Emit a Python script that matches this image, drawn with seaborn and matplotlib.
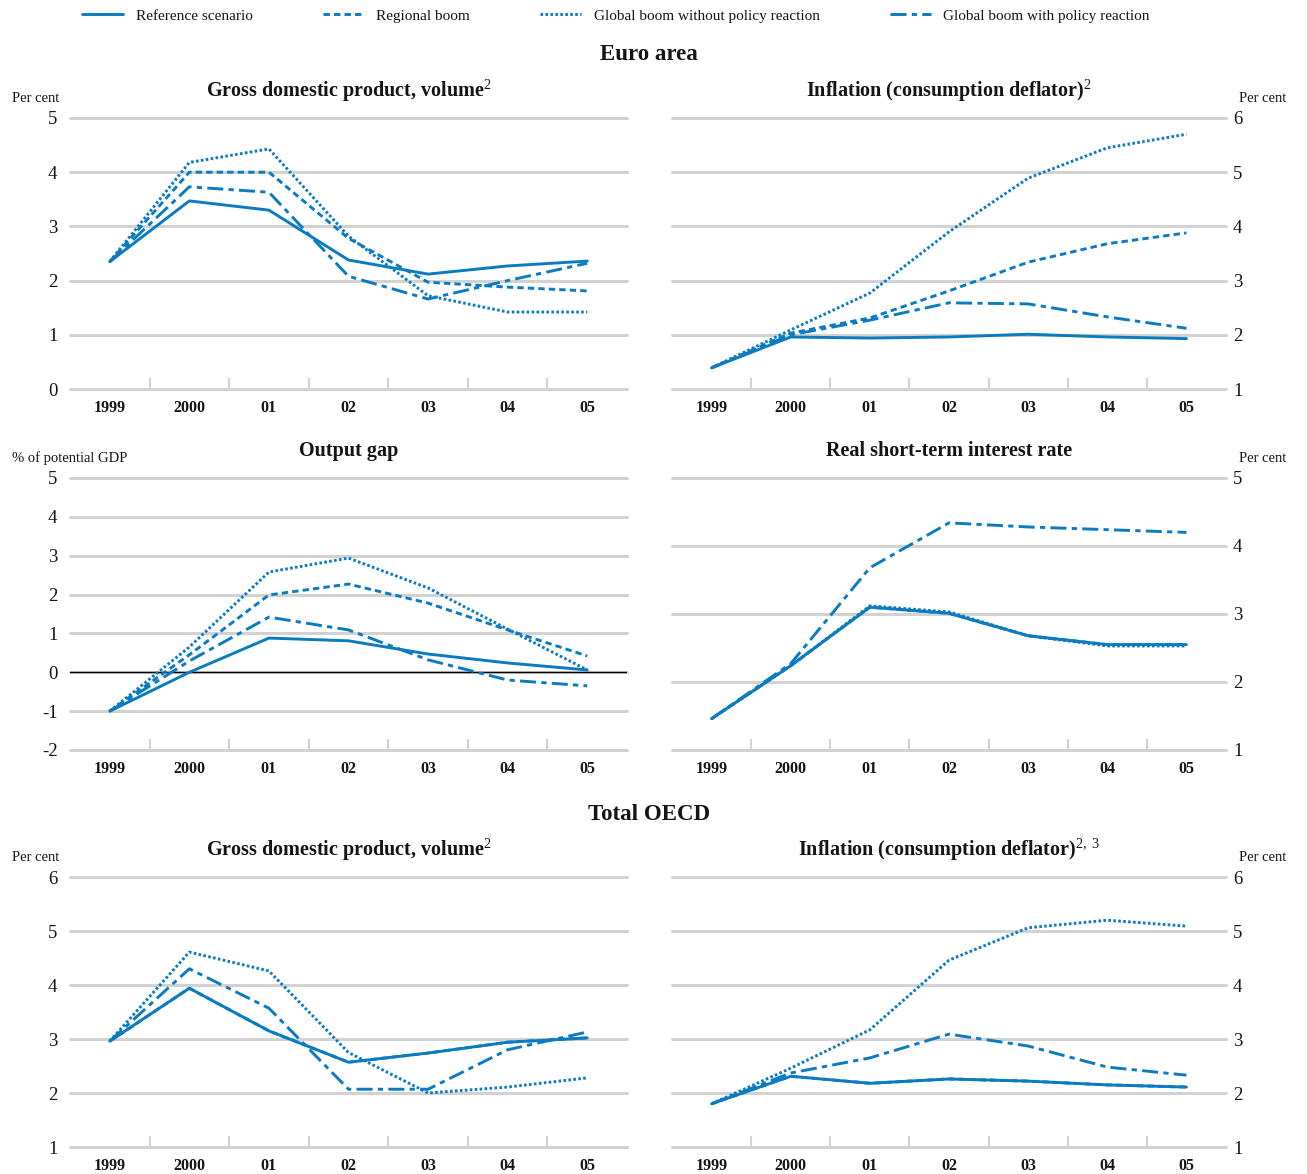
import pandas as pd
import matplotlib.pyplot as plt
import seaborn as sns
from matplotlib.ticker import FixedLocator
from matplotlib.lines import Line2D

years = ["1999", "2000", "01", "02", "03", "04", "05"]
scenarios = ["Reference scenario", "Regional boom",
             "Global boom without policy reaction", "Global boom with policy reaction"]

# Euro area - GDP volume
ea_gdp_ref = [2.35, 3.47, 3.30, 2.38, 2.12, 2.27, 2.36]
ea_gdp_reg = [2.35, 4.00, 4.00, 2.78, 1.97, 1.88, 1.81]
ea_gdp_glob = [2.35, 4.18, 4.43, 2.82, 1.72, 1.42, 1.42]
ea_gdp_pol = [2.35, 3.73, 3.63, 2.08, 1.66, 2.00, 2.32]

# Euro area - inflation
ea_inf_ref = [1.39, 1.96, 1.94, 1.96, 2.01, 1.96, 1.93]
ea_inf_reg = [1.39, 2.03, 2.31, 2.81, 3.34, 3.68, 3.88]
ea_inf_glob = [1.39, 2.09, 2.77, 3.90, 4.89, 5.45, 5.70]
ea_inf_pol = [1.39, 2.00, 2.27, 2.59, 2.57, 2.33, 2.12]

# Euro area - output gap
ea_gap_ref = [-1.0, 0.00, 0.88, 0.81, 0.47, 0.24, 0.06]
ea_gap_reg = [-1.0, 0.45, 1.99, 2.27, 1.78, 1.09, 0.42]
ea_gap_glob = [-1.0, 0.65, 2.58, 2.94, 2.17, 1.11, 0.06]
ea_gap_pol = [-1.0, 0.29, 1.42, 1.09, 0.32, -0.20, -0.35]

# Euro area - real short-term interest rate
ea_rate_ref = [1.46, 2.24, 3.10, 3.01, 2.68, 2.55, 2.55]
ea_rate_reg = [1.46, 2.24, 3.10, 3.01, 2.68, 2.55, 2.55]
ea_rate_glob = [1.46, 2.24, 3.12, 3.03, 2.68, 2.53, 2.53]
ea_rate_pol = [1.46, 2.27, 3.68, 4.34, 4.28, 4.24, 4.20]

# Total OECD - GDP volume
oecd_gdp_ref = [2.96, 3.94, 3.15, 2.57, 2.74, 2.94, 3.02]
oecd_gdp_reg = [2.96, 3.94, 3.15, 2.57, 2.74, 2.94, 3.02]
oecd_gdp_glob = [2.96, 4.61, 4.26, 2.75, 2.00, 2.11, 2.28]
oecd_gdp_pol = [2.96, 4.30, 3.57, 2.07, 2.07, 2.80, 3.13]

# Total OECD - inflation
oecd_inf_ref = [1.80, 2.31, 2.18, 2.26, 2.22, 2.15, 2.11]
oecd_inf_reg = [1.80, 2.31, 2.18, 2.26, 2.22, 2.15, 2.11]
oecd_inf_glob = [1.80, 2.46, 3.17, 4.46, 5.06, 5.20, 5.09]
oecd_inf_pol = [1.80, 2.37, 2.65, 3.09, 2.87, 2.48, 2.33]

blue = "#0b7bc1"
grey = "#d2d2d2"
ink = "#141414"
dashes = {scenarios[0]: "", scenarios[1]: (2.2, 1.4),
          scenarios[2]: (0.9, 0.8), scenarios[3]: (5.5, 1.8, 1.8, 1.8)}

sns.set_style("white")
plt.rcParams['font.family'] = ['Liberation Serif', 'DejaVu Serif']
plt.rcParams['mathtext.fontset'] = 'custom'
plt.rcParams['mathtext.rm'] = 'Liberation Serif'
plt.rcParams['axes.unicode_minus'] = False
plt.rcParams['text.color'] = ink
plt.rcParams['xtick.labelcolor'] = ink
plt.rcParams['ytick.labelcolor'] = ink


def long_frame(series):
    rows = []
    for name, vals in zip(scenarios, series):
        for i, v in enumerate(vals):
            rows.append({"x": i, "value": v, "scenario": name})
    return pd.DataFrame(rows)


def draw_panel(ax, series, ylim, yticks, side, title, unit, zero=False):
    df = long_frame(series)
    # draw in reverse so the reference line sits on top
    sns.lineplot(data=df, x="x", y="value", hue="scenario", style="scenario",
                 palette=[blue] * 4, dashes=dashes, hue_order=scenarios[::-1],
                 style_order=scenarios[::-1], linewidth=2.1, legend=False, ax=ax)
    ax.set_xlim(-0.5, 6.5)
    ax.set_ylim(*ylim)
    ax.set_yticks(yticks)
    ax.set_xticks(range(7))
    ax.set_xticklabels(years, fontweight="bold", fontsize=11.5)
    ax.xaxis.set_minor_locator(FixedLocator([i + 0.5 for i in range(6)]))
    ax.tick_params(axis="x", which="major", length=0, pad=8)
    ax.tick_params(axis="x", which="minor", direction="in", length=8,
                   width=1.5, color=grey, bottom=True)
    ax.tick_params(axis="y", length=0, labelsize=13.5)
    ax.yaxis.grid(True, color=grey, linewidth=2.2)
    for gl in ax.get_ygridlines():
        gl.set_clip_on(False)
    ax.set_axisbelow(True)
    for s in ax.spines.values():
        s.set_visible(False)
    if zero:
        ax.axhline(0, color="black", linewidth=1, zorder=1)
    ax.set_xlabel("")
    ax.set_ylabel("")
    if side == "right":
        ax.yaxis.tick_right()
        ax.tick_params(axis="y", pad=5)
        ax.text(1.067, 1.072, unit, transform=ax.transAxes, ha="center",
                va="center", fontsize=10.5)
    else:
        ax.tick_params(axis="y", pad=9)
        ax.text(-0.105, 1.072, unit, transform=ax.transAxes, ha="left",
                va="center", fontsize=10.5)
    ax.text(0.5, 1.1, title, transform=ax.transAxes, ha="center", va="center",
            fontsize=14.5, fontweight="bold")


fig = plt.figure(figsize=(13.07, 11.74), dpi=100)
W, H = 1307, 1174


def axes_px(left, right, top, bottom):
    return fig.add_axes([left / W, 1 - bottom / H, (right - left) / W, (bottom - top) / H])


ax1 = axes_px(70, 627, 118, 389)
ax2 = axes_px(672, 1226, 118, 389)
ax3 = axes_px(70, 627, 478, 750)
ax4 = axes_px(672, 1226, 478, 750)
ax5 = axes_px(70, 627, 877, 1147)
ax6 = axes_px(672, 1226, 877, 1147)

draw_panel(ax1, [ea_gdp_ref, ea_gdp_reg, ea_gdp_glob, ea_gdp_pol], (0, 5),
           range(0, 6), "left", r"Gross domestic product, volume$^{2}$", "Per cent")
draw_panel(ax2, [ea_inf_ref, ea_inf_reg, ea_inf_glob, ea_inf_pol], (1, 6),
           range(1, 7), "right", r"Inflation (consumption deflator)$^{2}$", "Per cent")
draw_panel(ax3, [ea_gap_ref, ea_gap_reg, ea_gap_glob, ea_gap_pol], (-2, 5),
           range(-2, 6), "left", "Output gap", "% of potential GDP", zero=True)
draw_panel(ax4, [ea_rate_ref, ea_rate_reg, ea_rate_glob, ea_rate_pol], (1, 5),
           range(1, 6), "right", "Real short-term interest rate", "Per cent")
draw_panel(ax5, [oecd_gdp_ref, oecd_gdp_reg, oecd_gdp_glob, oecd_gdp_pol], (1, 6),
           range(1, 7), "left", r"Gross domestic product, volume$^{2}$", "Per cent")
draw_panel(ax6, [oecd_inf_ref, oecd_inf_reg, oecd_inf_glob, oecd_inf_pol], (1, 6),
           range(1, 7), "right", r"Inflation (consumption deflator)$^{2,\,3}$", "Per cent")

fig.text(649 / W, 1 - 55 / H, "Euro area", ha="center", va="center",
         fontsize=16.5, fontweight="bold")
fig.text(649 / W, 1 - 814 / H, "Total OECD", ha="center", va="center",
         fontsize=16.5, fontweight="bold")

handles = [Line2D([], [], color=blue, linewidth=2.1,
                  dashes=dashes[s] if dashes[s] else (None, None)) for s in scenarios]
handles[0].set_linestyle("-")
fig.legend(handles, scenarios, loc="center", bbox_to_anchor=(616 / W, 1 - 16 / H),
           ncol=4, frameon=False, fontsize=11, handlelength=2.7,
           handletextpad=0.8, columnspacing=4.6)

plt.savefig("out.png", dpi=100)
